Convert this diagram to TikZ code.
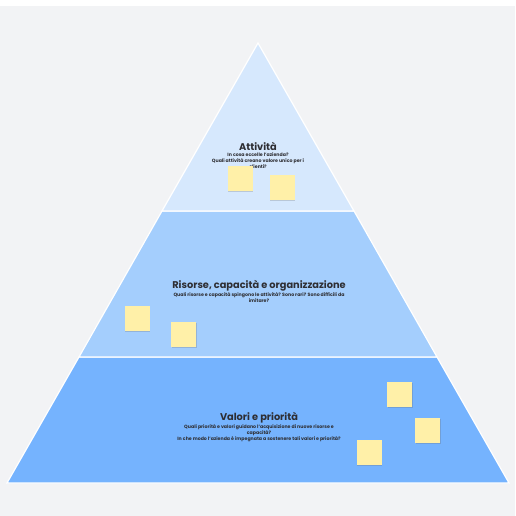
\documentclass[tikz,border=0pt]{standalone}
\usepackage{fontspec}
\setmainfont{Poppins}
\usetikzlibrary{shadows}
\definecolor{bg}{HTML}{F2F3F5}
\definecolor{tierA}{HTML}{D6E8FD}
\definecolor{tierB}{HTML}{A4CEFD}
\definecolor{tierC}{HTML}{75B3FE}
\definecolor{note}{HTML}{FFF0A8}
\definecolor{ink}{HTML}{2E2E33}
\tikzset{
  tier/.style={draw=white, line width=1.2pt, line join=miter},
  title/.style={font=\bfseries\fontsize{9.8}{10}\selectfont, text=ink, inner sep=0pt},
  sub/.style={font=\bfseries\fontsize{4.7}{6}\selectfont, text=ink, inner sep=0pt, align=center},
  sticky/.style={fill=note, minimum width=25pt, minimum height=25pt, inner sep=0pt,
    drop shadow={shadow xshift=0.6pt, shadow yshift=-1.2pt, opacity=0.25, fill=black!60}},
}
\begin{document}
\begin{tikzpicture}[x=1pt,y=-1pt]
\useasboundingbox (0,0) rectangle (516,516);
\fill[white] (0,0) rectangle (516,516);
\fill[bg] (0,6) rectangle (515,516);
% tiers
\coordinate (apex) at (258,43);
\coordinate (l1) at (162,211); \coordinate (r1) at (354,211);
\coordinate (l2) at (79,357); \coordinate (r2) at (437,357);
\coordinate (l3) at (7,483); \coordinate (r3) at (509,483);
\draw[tier, fill=tierC] (l2) -- (r2) -- (r3) -- (l3) -- cycle;
\draw[tier, fill=tierB] (l1) -- (r1) -- (r2) -- (l2) -- cycle;
\draw[tier, fill=tierA] (apex) -- (r1) -- (l1) -- cycle;
% texts
\node[title] (t1) at (258,146) {Attività};
\node[sub, anchor=north] (s1) at (258,152.3) {In cosa eccelle l'azienda?\\Quali attività creano valore unico per i\\clienti?};
\node[title] (t2) at (259,286) {Risorse, capacità e organizzazione};
\node[sub, anchor=north] (s2) at (259,292.3) {Quali risorse e capacità spingono le attività? Sono rari? Sono difficili da\\imitare?};
\node[title] (t3) at (259,418) {Valori e priorità};
\node[sub, anchor=north] (s3) at (259,424.3) {Quali priorità e valori guidano l'acquisizione di nuove risorse e\\capacità?\\In che modo l'azienda è impegnata a sostenere tali valori e priorità?};
% sticky notes
\node[sticky] (n1) at (240,178.5) {};
\node[sticky] (n2) at (282,187.5) {};
\node[sticky] (n3) at (137,318.5) {};
\node[sticky] (n4) at (183.5,334.5) {};
\node[sticky] (n5) at (399.5,394.5) {};
\node[sticky] (n6) at (427.5,430.5) {};
\node[sticky] (n7) at (369,452.5) {};
\end{tikzpicture}
\end{document}
